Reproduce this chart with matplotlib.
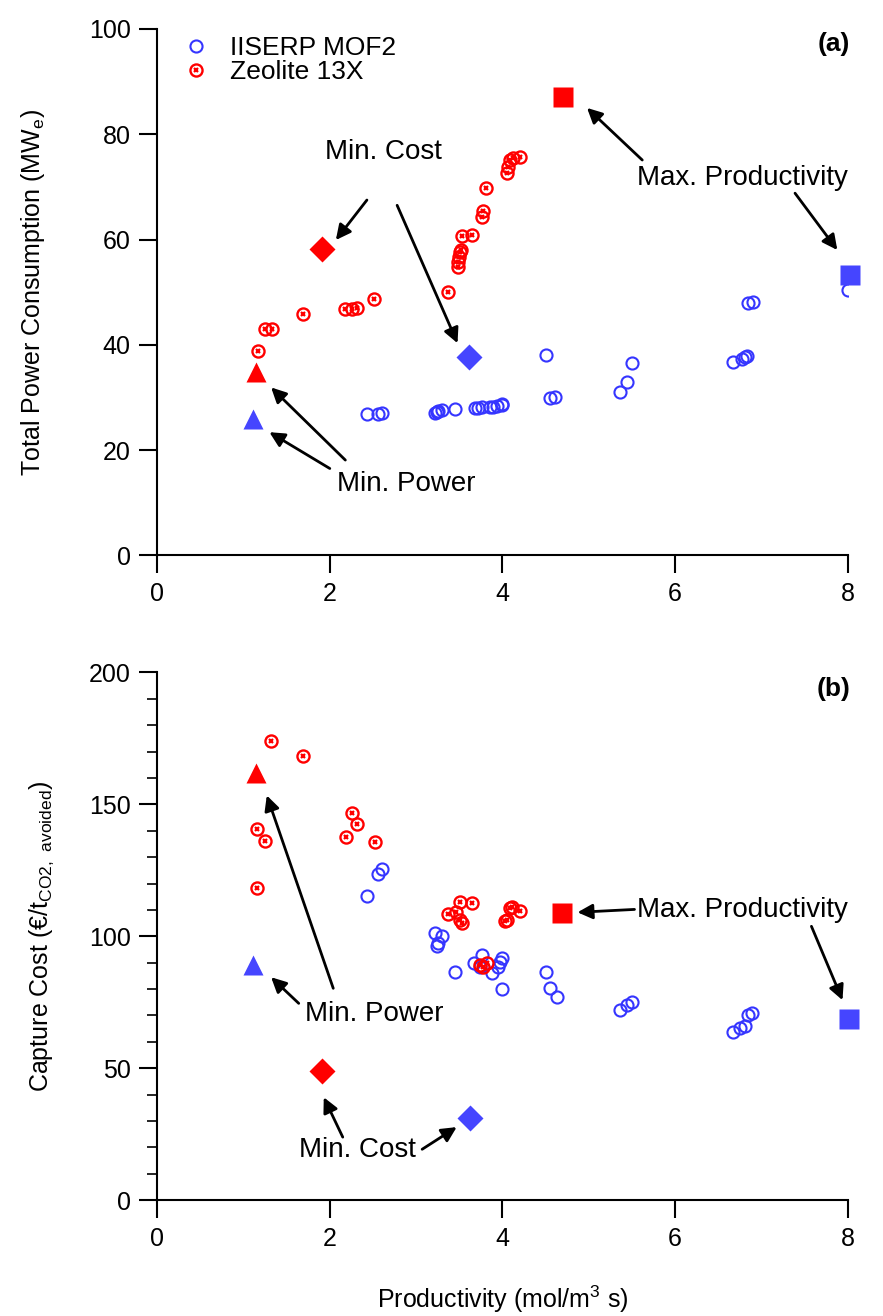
import matplotlib
matplotlib.use("Agg")
import matplotlib.pyplot as plt
from matplotlib.lines import Line2D
from matplotlib.ticker import MultipleLocator

plt.rcParams['font.family'] = ['Liberation Sans', 'DejaVu Sans']
plt.rcParams['mathtext.default'] = 'regular'

BLUE = '#3535ff'
BLUE_F = '#4545ff'
RED = '#ff0000'

# ---------------- Panel (a) data ----------------
a_mof_x = [2.43, 2.56, 2.60, 3.22, 3.24, 3.25, 3.30, 3.45, 3.68, 3.72, 3.76, 3.86, 3.89,
           3.94, 3.99, 4.00, 4.50, 4.55, 4.61, 5.36, 5.44, 5.50, 6.67, 6.77, 6.81, 6.83,
           6.85, 6.90, 8.00]
a_mof_y = [26.8, 26.8, 27.0, 27.0, 27.2, 27.4, 27.6, 27.8, 27.9, 27.9, 28.1, 28.1, 28.1,
           28.3, 28.5, 28.7, 38.0, 29.8, 30.0, 31.0, 32.9, 36.5, 36.7, 37.3, 37.6, 37.8,
           47.9, 48.1, 50.4]
a_zeo_x = [1.17, 1.25, 1.33, 1.69, 2.18, 2.26, 2.31, 2.51, 3.37, 3.48, 3.49, 3.50, 3.51,
           3.52, 3.53, 3.65, 3.76, 3.77, 3.81, 4.05, 4.06, 4.09, 4.12, 4.20]
a_zeo_y = [38.8, 43.0, 43.0, 45.8, 46.8, 46.8, 47.0, 48.7, 50.0, 54.8, 55.7, 56.7, 57.6,
           58.0, 60.6, 60.8, 64.3, 65.4, 69.8, 72.6, 73.8, 75.1, 75.5, 75.7]
# special points: [min power, min cost, max productivity]
a_zeo_special_x = [1.15, 1.91, 4.70]
a_zeo_special_y = [34.8, 58.2, 87.1]
a_mof_special_x = [1.11, 3.61, 8.03]
a_mof_special_y = [25.9, 37.6, 53.2]

# ---------------- Panel (b) data ----------------
b_mof_x = [2.43, 2.56, 2.60, 3.22, 3.30, 3.25, 3.24, 3.45, 3.67, 3.76, 3.74, 3.88, 3.95,
           4.00, 3.97, 4.00, 4.50, 4.55, 4.63, 5.36, 5.44, 5.50, 6.67, 6.75, 6.81, 6.84, 6.89]
b_mof_y = [115.2, 123.5, 125.4, 101.1, 100.0, 97.3, 96.2, 86.4, 89.8, 92.8, 88.3, 86.0, 88.3,
           91.7, 90.2, 79.9, 86.4, 80.3, 76.9, 72.0, 73.9, 75.0, 63.6, 65.2, 65.9, 70.1, 70.8]
b_zeo_x = [1.16, 1.25, 1.16, 1.32, 1.69, 2.19, 2.26, 2.31, 2.52, 3.37, 3.46, 3.51, 3.65,
           3.51, 3.53, 3.74, 3.82, 3.78, 4.03, 4.05, 4.09, 4.11, 4.20]
b_zeo_y = [140.5, 136.0, 118.2, 173.9, 168.2, 137.5, 146.6, 142.4, 135.6, 108.3, 109.1, 112.9,
           112.5, 106.1, 104.9, 89.0, 89.8, 88.5, 105.7, 106.1, 110.6, 111.0, 109.5]
b_zeo_special_x = [1.15, 1.91, 4.69]
b_zeo_special_y = [162.0, 48.9, 108.7]
b_mof_special_x = [1.11, 3.62, 8.02]
b_mof_special_y = [89.0, 31.0, 68.6]

labels = ['IISERP MOF2', 'Zeolite 13X']
special_markers = ['^', 'D', 's']
special_sizes = [15, 13.5, 14]

fig = plt.figure(figsize=(8.83, 13.16), dpi=100)
axa = fig.add_axes([0.178, 0.578, 0.782, 0.400])
axb = fig.add_axes([0.178, 0.088, 0.782, 0.401])

FS_TICK = 18
FS_ANN = 20


def draw(ax, mx, my, zx, zy, zsx, zsy, msx, msy):
    ax.plot(mx, my, linestyle='none', marker='o', ms=8.7, mfc='none', mec=BLUE, mew=1.5, zorder=3)
    ax.plot(zx, zy, linestyle='none', marker='o', ms=8.7, mfc='none', mec=RED, mew=1.7, zorder=3)
    ax.plot(zx, zy, linestyle='none', marker='x', ms=3.4, mec=RED, mew=1.6, zorder=3)
    for i in range(3):
        ax.plot([zsx[i]], [zsy[i]], linestyle='none', marker=special_markers[i],
                ms=special_sizes[i], color=RED, mec='none', zorder=4, clip_on=False)
        ax.plot([msx[i]], [msy[i]], linestyle='none', marker=special_markers[i],
                ms=special_sizes[i], color=BLUE_F, mec='none', zorder=4, clip_on=False)
    for s in ['top', 'right']:
        ax.spines[s].set_visible(False)
    for s in ['left', 'bottom']:
        ax.spines[s].set_linewidth(1.5)
    ax.set_xlim(0, 8)
    ax.xaxis.set_major_locator(MultipleLocator(2))
    ax.tick_params(which='major', direction='out', length=13, width=1.5, labelsize=FS_TICK, pad=6)
    ax.tick_params(which='minor', direction='out', length=7, width=1.2)


draw(axa, a_mof_x, a_mof_y, a_zeo_x, a_zeo_y, a_zeo_special_x, a_zeo_special_y,
     a_mof_special_x, a_mof_special_y)
draw(axb, b_mof_x, b_mof_y, b_zeo_x, b_zeo_y, b_zeo_special_x, b_zeo_special_y,
     b_mof_special_x, b_mof_special_y)

axa.set_ylim(0, 100)
axa.yaxis.set_major_locator(MultipleLocator(20))
axb.set_ylim(0, 200)
axb.yaxis.set_major_locator(MultipleLocator(50))
axb.yaxis.set_minor_locator(MultipleLocator(10))

axa.set_ylabel('Total Power Consumption (MW$_e$)', fontsize=18, labelpad=30)
axb.set_ylabel('Capture Cost (€/t$_{CO2,\\ avoided}$)', fontsize=18, labelpad=24)
axb.set_xlabel('Productivity (mol/m$^3$ s)', fontsize=18, labelpad=24)

# legend
h_mof = Line2D([], [], linestyle='none', marker='o', ms=8.7, mfc='none', mec=BLUE, mew=1.5)
h_z1 = Line2D([], [], linestyle='none', marker='o', ms=8.7, mfc='none', mec=RED, mew=1.7)
h_z2 = Line2D([], [], linestyle='none', marker='x', ms=3.4, mec=RED, mew=1.6)
axa.legend([h_mof, (h_z1, h_z2)], labels, loc='upper left', bbox_to_anchor=(0.01, 1.022),
           frameon=False, fontsize=19, handlelength=1.0, handletextpad=0.8,
           labelspacing=0.0, borderpad=0.2)

axa.text(7.84, 97.1, '(a)', fontsize=19, fontweight='bold', ha='center', va='center')
axb.text(7.84, 193.9, '(b)', fontsize=19, fontweight='bold', ha='center', va='center')

arrow_kw = dict(arrowstyle='-|>,head_length=0.9,head_width=0.45', color='black', lw=2,
                shrinkA=0, shrinkB=0)


def arrow(ax, start, end):
    ax.annotate('', xy=end, xytext=start, arrowprops=arrow_kw, annotation_clip=False)


# Panel (a) annotations
axa.text(2.62, 76.6, 'Min. Cost', fontsize=FS_ANN, ha='center', va='center')
arrow(axa, (2.43, 67.5), (2.07, 59.9))
arrow(axa, (2.78, 66.5), (3.48, 40.3))
axa.text(6.78, 71.7, 'Max. Productivity', fontsize=FS_ANN, ha='center', va='center')
arrow(axa, (5.62, 75.1), (4.98, 85.0))
arrow(axa, (7.39, 68.8), (7.88, 58.0))
axa.text(2.88, 13.6, 'Min. Power', fontsize=FS_ANN, ha='center', va='center')
arrow(axa, (2.18, 18.1), (1.32, 31.9))
arrow(axa, (2.00, 16.5), (1.30, 23.4))

# Panel (b) annotations
axb.text(6.78, 109.8, 'Max. Productivity', fontsize=FS_ANN, ha='center', va='center')
arrow(axb, (5.53, 110.2), (4.87, 109.1))
arrow(axb, (7.58, 103.8), (7.94, 75.8))
axb.text(2.51, 70.5, 'Min. Power', fontsize=FS_ANN, ha='center', va='center')
arrow(axb, (1.64, 74.6), (1.32, 84.5))
arrow(axb, (2.04, 80.3), (1.27, 153.4))
axb.text(2.32, 18.9, 'Min. Cost', fontsize=FS_ANN, ha='center', va='center')
arrow(axb, (2.15, 23.9), (1.93, 39.0))
arrow(axb, (3.07, 19.3), (3.47, 27.7))

fig.savefig('out.png', dpi=100)
